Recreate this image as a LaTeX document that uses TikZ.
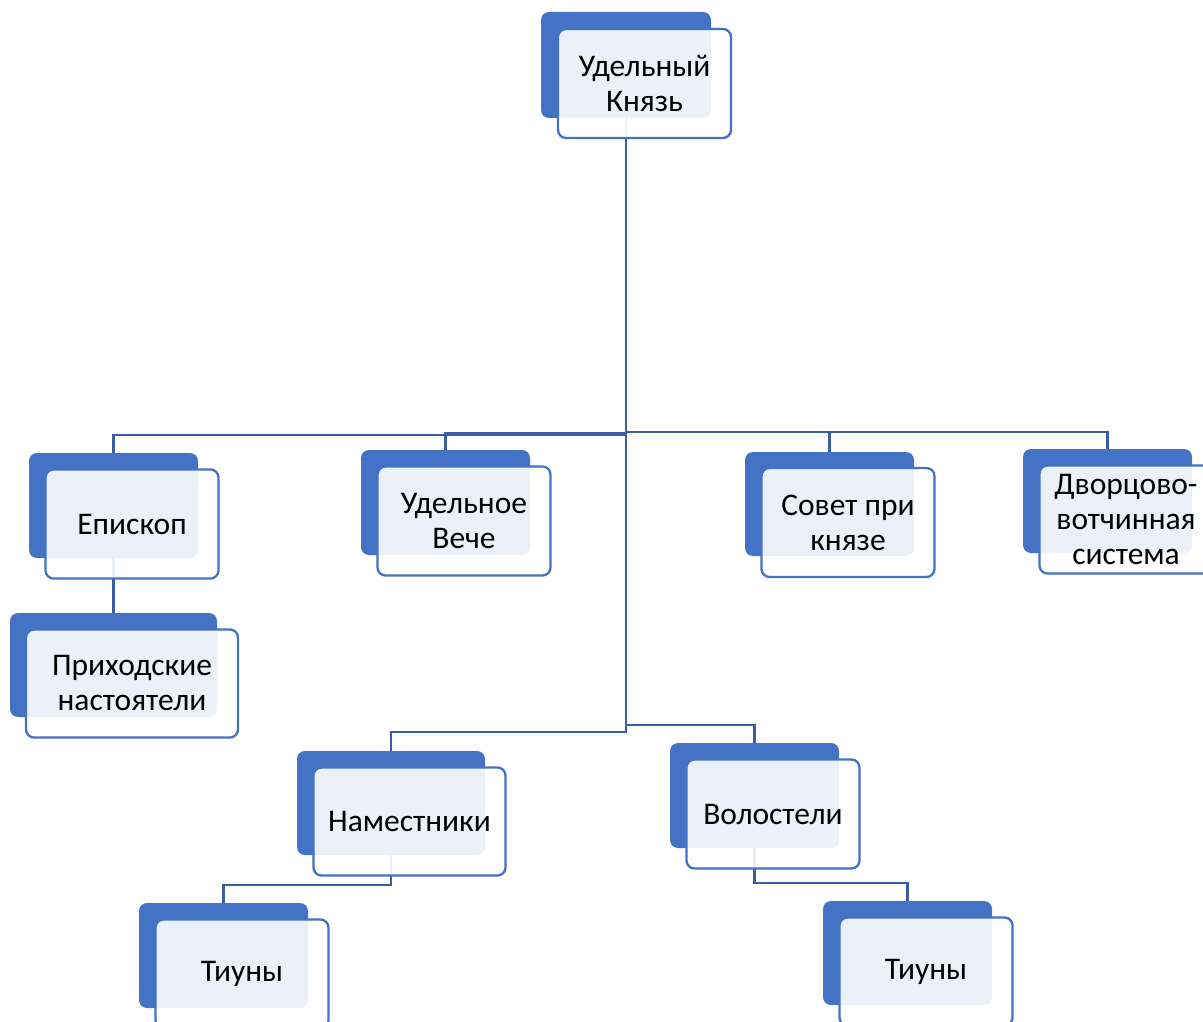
\documentclass[tikz,border=0pt]{standalone}
\usepackage{fontspec}
\setmainfont{Carlito}
\definecolor{dkblue}{RGB}{68,114,196}
\definecolor{lnblue}{RGB}{59,93,166}
\tikzset{
  backbox/.style={draw=none, fill=dkblue, rounded corners=8pt, inner sep=0pt},
  frontbox/.style={draw=dkblue, line width=2.3pt, fill=white, fill opacity=0.9, text opacity=1,
    rounded corners=8pt, inner sep=0pt, align=center, text=black,
    font=\fontsize{31.5}{35}\selectfont},
  conn/.style={draw=lnblue, line width=2.8pt}
}
\newcommand\orgback[5]{\node[backbox, minimum width=#4pt, minimum height=#5pt] (#1) at (#2,#3) {};}
\newcommand\orgfront[6]{\node[frontbox, minimum width=#4pt, minimum height=#5pt] (#1f) at (#2+18.5,#3+18.5) {#6};}
\begin{document}
\begin{tikzpicture}[x=1pt,y=-1pt]
\useasboundingbox (0,0) rectangle (1203,1022);
\clip (0,0) rectangle (1203,1022);
% back boxes
\orgback{kn}{626}{65}{170}{106}
\orgback{ep}{113.5}{505.5}{169}{105}
\orgback{pr}{113.5}{665}{207}{104}
\orgback{ve}{445.5}{502.5}{169}{105}
\orgback{so}{829.5}{504}{169}{104}
\orgback{dv}{1107.5}{501}{169}{104}
\orgback{na}{391}{803}{188}{104}
\orgback{vo}{754.5}{795.5}{169}{105}
\orgback{ta}{223.5}{955.5}{169}{105}
\orgback{tb}{907.5}{953}{169}{104}
% connectors
\draw[conn] (kn.south) |- (ep.north |- 0,435) -- (ep.north);
\draw[conn] (kn.south) |- (ve.north |- 0,433) -- (ve.north);
\draw[conn] (kn.south) |- (so.north |- 0,432) -- (so.north);
\draw[conn] (kn.south) |- (dv.north |- 0,432) -- (dv.north);
\draw[conn] (kn.south) |- (na.north |- 0,732) -- (na.north);
\draw[conn] (kn.south) |- (vo.north |- 0,725) -- (vo.north);
\draw[conn] (ep.south) -- (pr.north);
\draw[conn] (na.south) |- (ta.north |- 0,885) -- (ta.north);
\draw[conn] (vo.south) |- (tb.north |- 0,883) -- (tb.north);
% front boxes
\orgfront{kn}{626}{65}{173}{109}{Удельный\\Князь}
\orgfront{ep}{113.5}{505.5}{173}{109}{Епископ}
\orgfront{pr}{113.5}{665}{212}{108}{Приходские\\настоятели}
\orgfront{ve}{445.5}{502.5}{173}{109}{Удельное\\Вече}
\orgfront{so}{829.5}{504}{173}{109}{Совет при\\князе}
\orgfront{dv}{1107.5}{501}{173}{108}{Дворцово-\\вотчинная\\система}
\orgfront{na}{391}{803}{192}{108}{Наместники}
\orgfront{vo}{754.5}{795.5}{173}{109}{Волостели}
\orgfront{ta}{223.5}{955.5}{173}{109}{Тиуны}
\orgfront{tb}{907.5}{953}{173}{108}{Тиуны}
\end{tikzpicture}
\end{document}
